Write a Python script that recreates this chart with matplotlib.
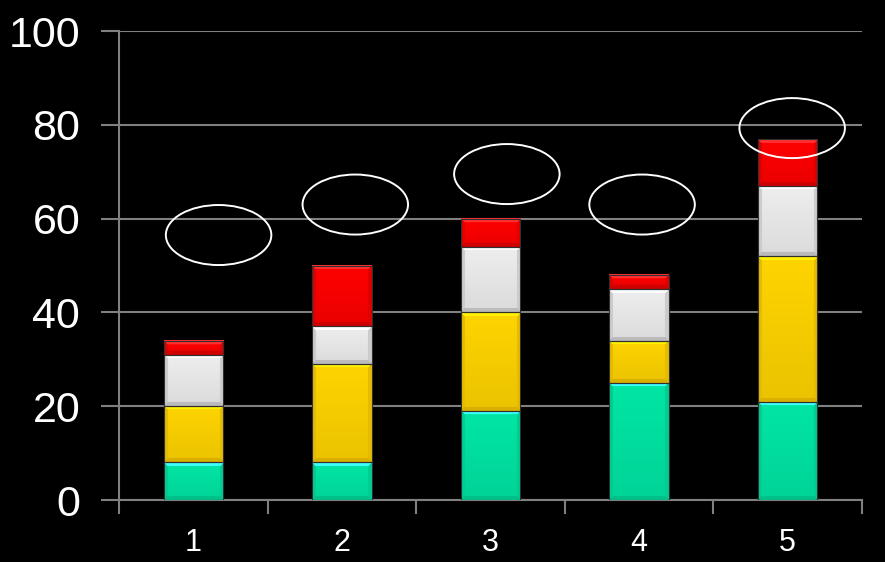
import numpy as np
import matplotlib
matplotlib.use("Agg")
import matplotlib.pyplot as plt
from matplotlib.patches import Ellipse, Rectangle

# --- Data ---
categories = [1, 2, 3, 4, 5]
green = [8, 8, 19, 25, 21]
yellow = [12, 21, 21, 9, 31]
white = [11, 8, 14, 11, 15]
red = [3, 13, 6, 3, 10]

# ellipse annotations (x, y centre in data units)
ellipse_x = [1.17, 2.09, 3.11, 4.02, 5.03]
ellipse_y = [56.5, 63.0, 69.5, 63.0, 79.3]

series = [
    (green, "#00e6a4", "#40ffff", "#00a878"),
    (yellow, "#ffd400", "#fff200", "#c09800"),
    (white, "#eeeeee", "#ffffff", "#9a9a9a"),
    (red, "#ff0000", "#ff3030", "#b00000"),
]

plt.rcParams['font.family'] = ['Liberation Sans', 'DejaVu Sans']

fig = plt.figure(figsize=(8.85, 5.62), dpi=100, facecolor="black")
ax = fig.add_axes([0.1345, 0.1103, 0.8395, 0.8345], facecolor="black")

bar_w = 0.4
px_per_unit = 4.69  # vertical pixels per data unit


def to_rgb(c):
    return np.array(matplotlib.colors.to_rgb(c))


def bevel_image(h_px, w_px, main, light, dark, b=4):
    """Build a small RGB array that looks like a bevelled block."""
    h_px = max(int(round(h_px)), 2)
    rows = np.arange(h_px)[:, None] * np.ones((1, w_px))
    cols = np.ones((h_px, 1)) * np.arange(w_px)[None, :]
    dt, db = rows, h_px - 1 - rows
    dl, dr = cols, w_px - 1 - cols
    m, l, d = to_rgb(main), to_rgb(light), to_rgb(dark)
    img = np.ones((h_px, w_px, 3)) * m
    # slight vertical shading in the body
    t = rows / max(h_px - 1, 1)
    img = img * (1 - 0.08 * t[..., None])
    side = np.minimum(dl, dr)
    near = np.minimum(np.minimum(dt, db), side)
    mask = near < b
    top = mask & (dt == near)
    bot = mask & (db == near) & ~top
    sid = mask & ~top & ~bot
    img[top] = l
    img[bot] = m * 0.4 + d * 0.6
    img[sid] = m * 0.6 + d * 0.4
    return np.clip(img, 0, 1)


bottoms = np.zeros(len(categories))
for vals, main, light, dark in series:
    for x, v, b0 in zip(categories, vals, bottoms):
        img = bevel_image(v * px_per_unit, 59, main, light, dark)
        ax.imshow(img, extent=[x - bar_w / 2, x + bar_w / 2, b0, b0 + v],
                  aspect="auto", interpolation="bilinear", zorder=3)
        ax.add_patch(Rectangle((x - bar_w / 2, b0), bar_w, v, fill=False,
                               edgecolor="#303030", linewidth=0.8, zorder=4))
    bottoms = bottoms + np.array(vals)

for ex, ey in zip(ellipse_x, ellipse_y):
    ax.add_patch(Ellipse((ex, ey), 0.71, 12.8, fill=False, edgecolor="white",
                         linewidth=1.4, zorder=5, clip_on=False))

ax.set_xlim(0.5, 5.5)
ax.set_ylim(0, 100)
ax.set_yticks(range(0, 101, 20))
ax.set_xticks(categories)
ax.set_xticks([0.5, 1.5, 2.5, 3.5, 4.5, 5.5], minor=True)
ax.grid(axis="y", color="#808080", linewidth=1.5, zorder=1)
ax.tick_params(axis="y", colors="#808080", length=13, width=1.5,
               labelcolor="white", labelsize=31, pad=15)
ax.tick_params(axis="x", which="major", length=0, labelcolor="white",
               labelsize=22, pad=20)
ax.tick_params(axis="x", which="minor", colors="#808080", length=10, width=1.5)
for s in ["top", "right"]:
    ax.spines[s].set_visible(False)
for s in ["left", "bottom"]:
    ax.spines[s].set_color("#808080")
    ax.spines[s].set_linewidth(1.5)
ax.set_axisbelow(True)

fig.savefig("out.png", dpi=100, facecolor="black")
